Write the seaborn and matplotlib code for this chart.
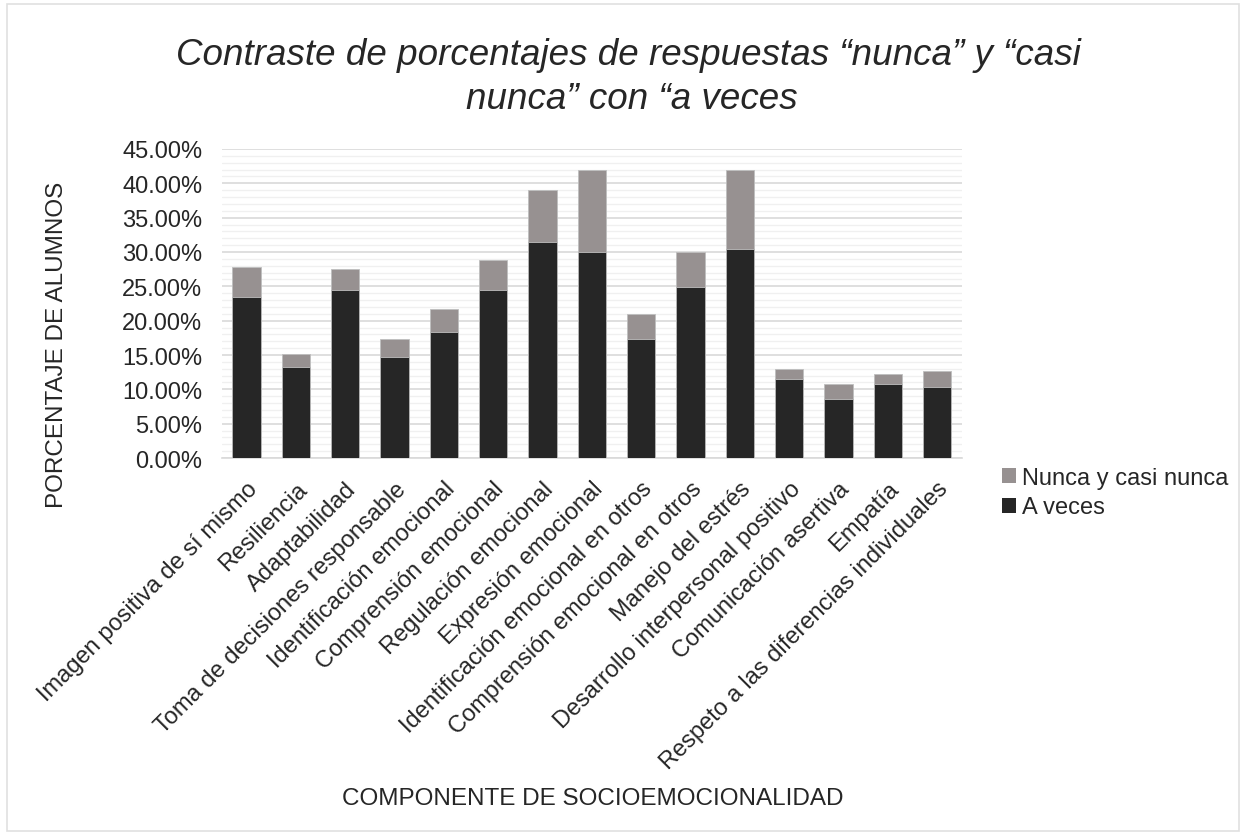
import matplotlib
matplotlib.use("Agg")
import matplotlib.pyplot as plt
from matplotlib.patches import Patch, Rectangle
from matplotlib.ticker import MultipleLocator, FuncFormatter
import seaborn as sns
import pandas as pd

componentes = [
    "Imagen positiva de sí mismo",
    "Resiliencia",
    "Adaptabilidad",
    "Toma de decisiones responsable",
    "Identificación emocional",
    "Comprensión emocional",
    "Regulación emocional",
    "Expresión emocional",
    "Identificación emocional en otros",
    "Comprensión emocional en otros",
    "Manejo del estrés",
    "Desarrollo interpersonal positivo",
    "Comunicación asertiva",
    "Empatía",
    "Respeto a las diferencias individuales",
]
a_veces = [0.235, 0.1325, 0.245, 0.147, 0.184, 0.245, 0.3145, 0.300,
           0.173, 0.2495, 0.304, 0.1155, 0.0865, 0.108, 0.104]
nunca_casi_nunca = [0.0435, 0.019, 0.030, 0.026, 0.0325, 0.044, 0.0765, 0.120,
                    0.037, 0.0505, 0.116, 0.014, 0.0215, 0.015, 0.022]
titulo = ["Contraste de porcentajes de respuestas “nunca” y “casi",
          "nunca” con “a veces"]

df = pd.DataFrame({
    "componente": componentes,
    "a_veces": a_veces,
    "nunca": nunca_casi_nunca,
})
df["total"] = df["a_veces"] + df["nunca"]

sns.set_theme(style="white")
plt.rcParams["font.family"] = ["Liberation Sans", "DejaVu Sans"]

DARK = "#262626"
GRAY = "#979191"
TEXT = "#262626"

fig = plt.figure(figsize=(12.46, 8.37), dpi=100)
fig.patches.append(Rectangle((0.006, 0.006), 0.988, 0.988, transform=fig.transFigure,
                             fill=False, edgecolor="#e0e0e0", linewidth=1.2))
ax = fig.add_axes([0.178, 0.4516, 0.594, 0.3692])

# stacked bars: full height in gray, lower segment in dark
sns.barplot(data=df, x="componente", y="total", color=GRAY, width=0.57,
            edgecolor="#bfbfbf", linewidth=0.6, saturation=1, ax=ax, zorder=3)
sns.barplot(data=df, x="componente", y="a_veces", color=DARK, width=0.57,
            edgecolor="#bfbfbf", linewidth=0.6, saturation=1, ax=ax, zorder=4)

ax.set_ylim(0, 0.45)
ax.set_xlim(-0.5, len(componentes) - 0.5)
ax.yaxis.set_major_locator(MultipleLocator(0.05))
ax.yaxis.set_minor_locator(MultipleLocator(0.01))
ax.yaxis.set_major_formatter(FuncFormatter(lambda v, p: f"{v*100:.2f}%"))
ax.grid(axis="y", which="minor", color="#f0f0f0", linewidth=1.0, zorder=0)
ax.grid(axis="y", which="major", color="#d9d9d9", linewidth=1.2, zorder=1)
ax.grid(axis="x", visible=False)
for s in ["top", "right", "left"]:
    ax.spines[s].set_visible(False)
ax.spines["bottom"].set_color("#d9d9d9")
ax.spines["bottom"].set_linewidth(1.2)
ax.tick_params(axis="both", which="both", length=0)
ax.tick_params(axis="y", labelsize=17, labelcolor=TEXT, pad=14)
ax.set_xticks(range(len(componentes)))
ax.set_xticklabels(componentes, rotation=45, ha="right", rotation_mode="anchor",
                   fontsize=17, color=TEXT)
ax.tick_params(axis="x", pad=14)

ax.set_xlabel("")
ax.set_ylabel("")
fig.text(0.046, 0.588, "PORCENTAJE DE ALUMNOS", rotation=90, ha="center", va="center",
         fontsize=17.5, color=TEXT)
fig.text(0.476, 0.045, "COMPONENTE DE SOCIOEMOCIONALIDAD", ha="center", va="center",
         fontsize=17.5, color=TEXT)

# two-line italic title, each line placed on its own baseline
title_style = dict(ha="center", va="baseline", fontsize=26.5, style="italic", color=TEXT)
fig.text(0.5044, 0.9223, titulo[0], **title_style)
fig.text(0.507, 0.8698, titulo[1], **title_style)

handles = [Patch(facecolor=GRAY, edgecolor="none", label="Nunca y casi nunca"),
           Patch(facecolor=DARK, edgecolor="none", label="A veces")]
fig.legend(handles=handles, loc="center left", bbox_to_anchor=(0.787, 0.41),
           frameon=False, fontsize=17, handlelength=0.6, handleheight=0.6,
           handletextpad=0.25, labelspacing=0.3, labelcolor=TEXT)

fig.savefig("out.png", dpi=100)
